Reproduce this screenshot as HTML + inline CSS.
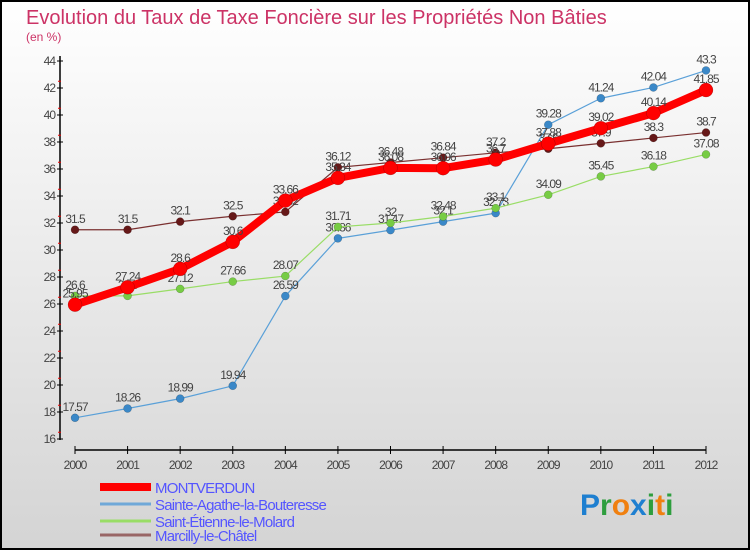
<!DOCTYPE html>
<html><head><meta charset="utf-8"><style>
body{margin:0;}
#c{width:750px;height:550px;position:relative;overflow:hidden;}
svg text{font-family:"Liberation Sans",sans-serif;}
</style></head><body>
<div id="c">
<svg id="s" width="750" height="550" xmlns="http://www.w3.org/2000/svg">
<defs><linearGradient id="bg" x1="0" y1="0" x2="0" y2="1"><stop offset="0" stop-color="#ffffff"/><stop offset="1" stop-color="#d4d4d4"/></linearGradient></defs>
<rect x="1" y="1" width="748" height="548" fill="url(#bg)" stroke="#000" stroke-width="2"/>
<text x="26" y="24" font-size="20" fill="#cc3366">Evolution du Taux de Taxe Foncière sur les Propriétés Non Bâties</text>
<text x="26" y="41" font-size="12" fill="#cc3366">(en %)</text>
<g id="axes"></g><g id="series"></g><g id="legend"></g>
<text x="580" y="515" font-size="30" font-weight="bold"><tspan fill="#1e7fd0">P</tspan><tspan fill="#2e9e3e">r</tspan><tspan fill="#f08010">o</tspan><tspan fill="#1e7fd0">x</tspan><tspan fill="#2e9e3e">i</tspan><tspan fill="#f08010">t</tspan><tspan fill="#2e9e3e">i</tspan></text>
</svg></div>
<script>
const years=[2000,2001,2002,2003,2004,2005,2006,2007,2008,2009,2010,2011,2012];
const yTicks=[16,18,20,22,24,26,28,30,32,34,36,38,40,42,44];
const montverdun=[25.95,27.24,28.6,30.6,33.66,35.34,36.08,36.06,36.7,37.88,39.02,40.14,41.85];
const sainteAgathe=[17.57,18.26,18.99,19.94,26.59,30.86,31.47,32.1,32.73,39.28,41.24,42.04,43.3];
const saintEtienne=[26.6,26.6,27.12,27.66,28.07,31.71,32,32.48,33.1,34.09,35.45,36.18,37.08];
const marcilly=[31.5,31.5,32.1,32.5,32.82,36.12,36.48,36.84,37.2,37.5,37.9,38.3,38.7];
const names=["MONTVERDUN","Sainte-Agathe-la-Bouteresse","Saint-Étienne-le-Molard","Marcilly-le-Châtel"];
const NS="http://www.w3.org/2000/svg";
const xs=i=>75+i*(631/12);
const ys=v=>61+(44-v)*13.5;
function mk(t,a,p){const e=document.createElementNS(NS,t);for(const k in a)e.setAttribute(k,a[k]);p.appendChild(e);return e;}
const ax=document.getElementById('axes');
let l=mk('line',{x1:60,y1:56,x2:60,y2:440,stroke:'#000','stroke-width':1.5},ax);


l=mk('line',{x1:75,y1:450,x2:706,y2:450,stroke:'#000','stroke-width':1.5},ax);


yTicks.forEach(v=>{const y=ys(v);
mk('line',{x1:57,y1:y,x2:63,y2:y,stroke:'#000'},ax);
if(v<44)mk('line',{x1:58,y1:y-6.75,x2:61,y2:y-6.75,stroke:'#e00'},ax);
const t=mk('text',{x:55,y:y+4,'font-size':12,fill:'#444','text-anchor':'end','letter-spacing':'-1'},ax);t.textContent=v;

});
years.forEach((yr,i)=>{const x=xs(i);
mk('line',{x1:x,y1:446,x2:x,y2:454,stroke:'#000'},ax);
const t=mk('text',{x:x,y:469,'font-size':12,fill:'#444','text-anchor':'middle','letter-spacing':'-1'},ax);t.textContent=yr;

});
const sg=document.getElementById('series');
function draw(data,color,dot,w,r,name){
const g=mk('g',{},sg);


mk('polyline',{points:data.map((v,i)=>xs(i)+','+ys(v)).join(' '),fill:'none',stroke:color,'stroke-width':w,'stroke-linejoin':'round'},g);
data.forEach((v,i)=>{const c=mk('circle',{cx:xs(i),cy:ys(v),r:r,fill:dot,stroke:'rgba(0,0,0,0.3)','stroke-width':0.5},g);


const t=mk('text',{x:xs(i),y:ys(v)-7,'font-size':12,fill:'#444','text-anchor':'middle','letter-spacing':'-1'},g);t.textContent=v;});}
draw(sainteAgathe,'#5aa0d8','#3a88c8',1.2,4,'series-sainte-agathe');
draw(saintEtienne,'#99dd66','#77cc44',1.2,4,'series-saint-etienne');
draw(marcilly,'#7a3030','#661818',1.2,4,'series-marcilly');
draw(montverdun,'#ff0000','#ff0000',8,7,'series-montverdun');
const lg=document.getElementById('legend');
const lc=['#ff0000','#6fa8d8','#99dd66','#996666'],lw=[8,3,3,3],ly=[491,508,525,539];
names.forEach((n,i)=>{const g=mk('g',{},lg);


mk('line',{x1:100,y1:ly[i]-4,x2:151,y2:ly[i]-4,stroke:lc[i],'stroke-width':lw[i]},g);
const t=mk('text',{x:155,y:ly[i]+2,'font-size':15,fill:'#5555ff','letter-spacing':'-0.8'},g);t.textContent=n;});
</script>
</body></html>
